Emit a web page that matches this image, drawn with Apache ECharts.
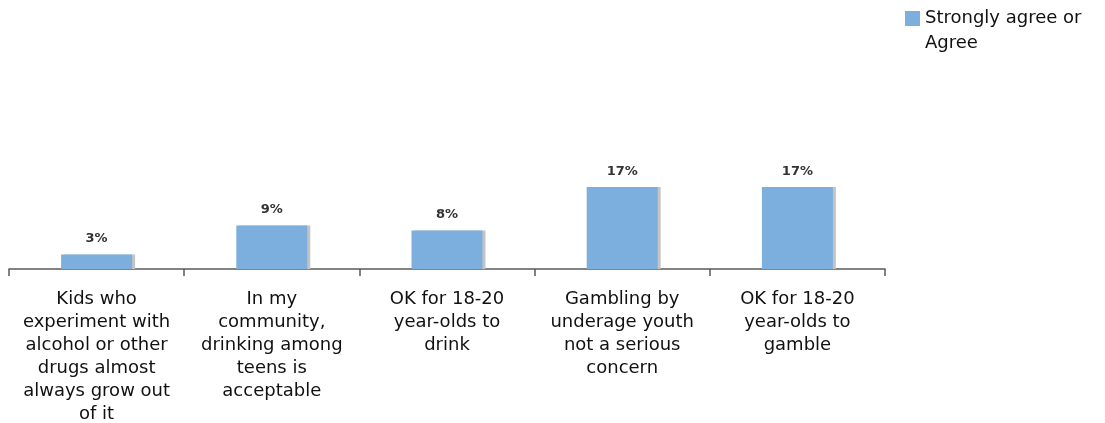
<!DOCTYPE html>
<html>
<head>
<meta charset="utf-8">
<script src="https://cdn.jsdelivr.net/npm/echarts@6/dist/echarts.min.js"></script>
<style>html,body{margin:0;padding:0;background:#fff;}#c{width:1105px;height:423px;}</style>
</head>
<body>
<div id="c"></div>
<script>
var categories = [
  "Kids who\nexperiment with\nalcohol or other\ndrugs almost\nalways grow out\nof it",
  "In my\ncommunity,\ndrinking among\nteens is\nacceptable",
  "OK for 18-20\nyear-olds to\ndrink",
  "Gambling by\nunderage youth\nnot a serious\nconcern",
  "OK for 18-20\nyear-olds to\ngamble"
];
var seriesName = "Strongly agree or\nAgree";
var values = [3, 9, 8, 17, 17];

var chart = echarts.init(document.getElementById('c'));
chart.setOption({
  animation: false,
  legend: {
    left: 905, top: -19, padding: 0,
    itemWidth: 15, itemHeight: 15,
    icon: 'rect',
    data: [seriesName],
    formatter: function (name) { return '\n' + name; },
    textStyle: { fontFamily: 'DejaVu Sans', fontSize: 18, color: '#111', lineHeight: 25 }
  },
  grid: { left: 9, right: 220, top: 28, bottom: 154, containLabel: false, outerBoundsMode: 'none' },
  xAxis: {
    type: 'category',
    data: categories,
    axisLine: { lineStyle: { color: '#5a5a5a', width: 1.5 } },
    axisTick: { show: true, length: 7, lineStyle: { color: '#5a5a5a', width: 1.5 } },
    axisLabel: { interval: 0, fontFamily: 'DejaVu Sans', fontSize: 18, color: '#111', lineHeight: 23, margin: 19 }
  },
  yAxis: {
    type: 'value', min: 0, max: 50, show: false,
    splitLine: { show: false }
  },
  series: [{
    name: seriesName,
    type: 'bar',
    data: values,
    barWidth: 71,
    itemStyle: { color: '#7cafdd', shadowColor: '#c4c4c4', shadowOffsetX: 3, shadowOffsetY: 0, shadowBlur: 0 },
    label: {
      show: true, position: 'top', distance: 9,
      formatter: '{c}%',
      fontFamily: 'DejaVu Sans', fontSize: 13, fontWeight: 'bold', color: '#333'
    }
  }]
});
</script>
</body>
</html>
